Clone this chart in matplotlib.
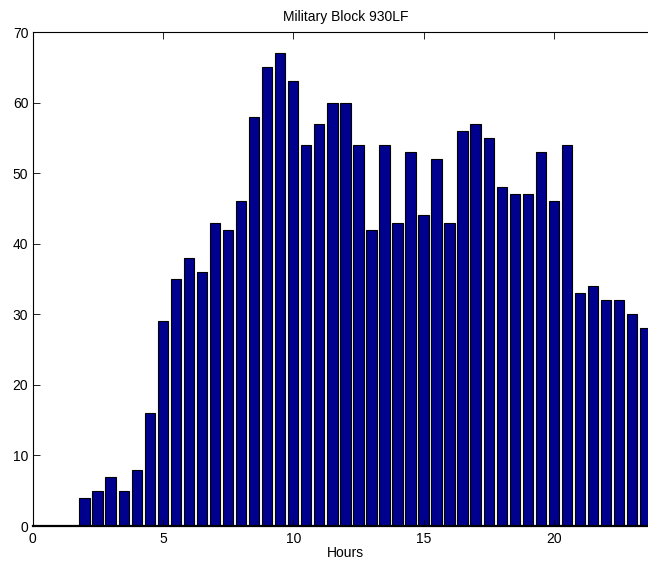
import matplotlib.pyplot as plt
import numpy as np

plt.rcParams['font.family'] = ['Liberation Sans', 'DejaVu Sans']
plt.rcParams['font.size'] = 10

# half-hour bins, 0.0 .. 23.5
hours = np.arange(0, 24, 0.5)
counts = [0, 0, 0, 0,
          4, 5, 7, 5, 8, 16, 29, 35, 38, 36,
          43, 42, 46, 58, 65, 67, 63, 54, 57, 60,
          60, 54, 42, 54, 43, 53, 44, 52, 43, 56,
          57, 55, 48, 47, 47, 53, 46, 54, 33, 34,
          32, 32, 30, 28]
title = 'Military Block 930LF'

fig = plt.figure(figsize=(6.48, 5.62), dpi=100)
ax = fig.add_axes([32.5 / 648, 36 / 562, 625.7 / 648, 494 / 562])

ax.bar(hours, counts, width=0.4, color='#00008F', edgecolor='black', linewidth=0.8)

ax.set_xlim(0, 24)
ax.set_ylim(0, 70)
ax.set_xticks([0, 5, 10, 15, 20])
ax.set_yticks(range(0, 71, 10))
ax.tick_params(direction='in', length=5, width=0.6, top=True, right=True)
ax.tick_params(axis='x', pad=4)
ax.tick_params(axis='y', pad=3)
for s in ax.spines.values():
    s.set_linewidth(0.8)
ax.spines['bottom'].set_linewidth(1.6)

ax.set_xlabel('Hours', labelpad=0)
ax.set_title(title, fontsize=10, pad=8)

fig.savefig('out.png', dpi=100)
